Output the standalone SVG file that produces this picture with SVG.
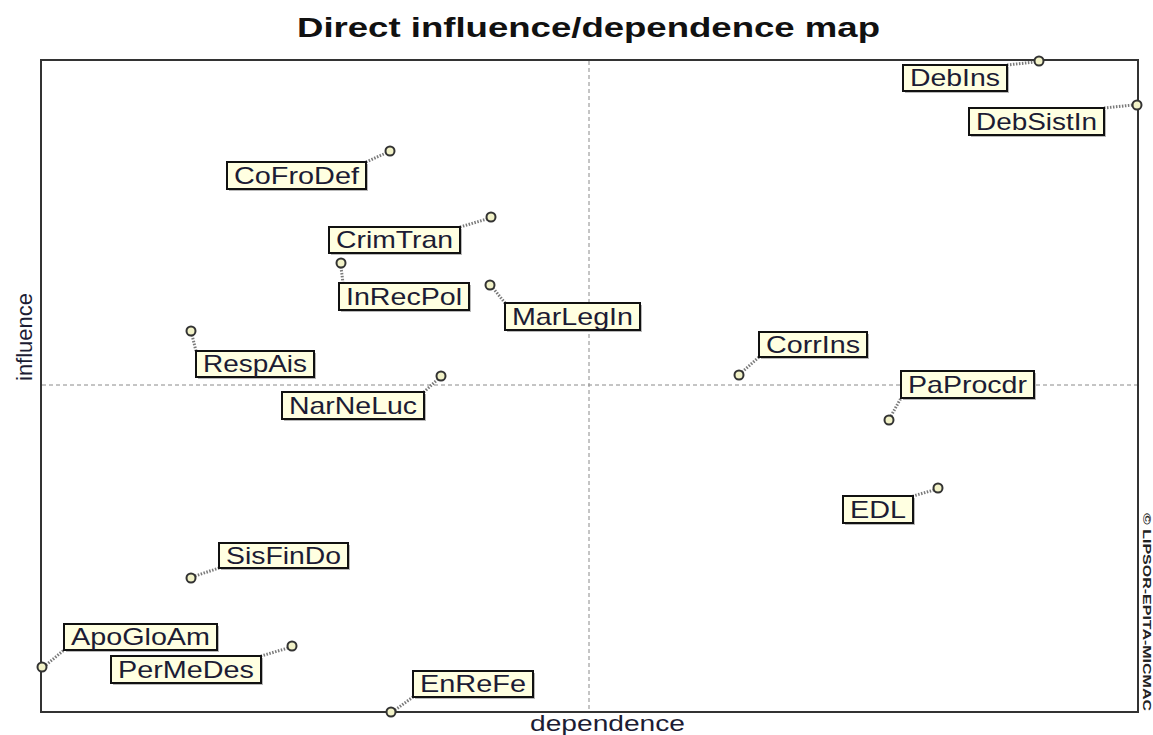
<svg xmlns="http://www.w3.org/2000/svg" width="1153" height="735" viewBox="0 0 1153 735">
<style>
.lbl{fill:#FFFFE1;stroke:#111;stroke-width:2}
.shd{fill:#8a8a8a;opacity:0.6}
.pt{fill:#F2F2C8;stroke:#333;stroke-width:2}
.tx{font-family:"Liberation Sans",Arial,sans-serif;font-size:24px;fill:#1c1c34}
.ax{font-family:"Liberation Sans",Arial,sans-serif;font-size:22px;fill:#1c1c34}
.ld{stroke:#7a7a7a;stroke-width:3;stroke-dasharray:1.5 1.5;fill:none}
.frame{stroke:#333;stroke-width:2;fill:none}
.dash{stroke:#8a8a8a;stroke-width:1;stroke-dasharray:4 3}
</style>
<rect width="1153" height="735" fill="#fff"/>
<text x="297" y="37" font-family="'Liberation Sans',Arial,sans-serif" font-size="28" font-weight="bold" fill="#111" textLength="583" lengthAdjust="spacingAndGlyphs">Direct influence/dependence map</text>
<g id="plot">
<rect class="frame" x="41" y="60" width="1097" height="652"/>
<line class="dash" x1="589" y1="61" x2="589" y2="711"/>
<line class="dash" x1="42" y1="385" x2="1137" y2="385"/>
<text class="ax" x="530" y="731" textLength="155" lengthAdjust="spacingAndGlyphs">dependence</text>
<text class="ax" transform="translate(32,381) rotate(-90)" x="0" y="0" textLength="88" lengthAdjust="spacingAndGlyphs">influence</text>
<text transform="translate(1143,513) rotate(90)" x="0" y="0" font-family="'Liberation Sans',Arial,sans-serif" font-size="11" font-weight="bold" fill="#222" textLength="198" lengthAdjust="spacingAndGlyphs">© LIPSOR-EPITA-MICMAC</text>
</g>
<g id="connectors">
<line class="ld" x1="1007" y1="65" x2="1035" y2="62"/>
<line class="ld" x1="1104" y1="108" x2="1133" y2="105"/>
<line class="ld" x1="366" y1="162" x2="386" y2="153"/>
<line class="ld" x1="460" y1="227" x2="487" y2="219"/>
<line class="ld" x1="341" y1="267" x2="343" y2="283"/>
<line class="ld" x1="493" y1="288" x2="505" y2="303"/>
<line class="ld" x1="192" y1="335" x2="196" y2="351"/>
<line class="ld" x1="438" y1="379" x2="424" y2="392"/>
<line class="ld" x1="742" y1="372" x2="759" y2="357"/>
<line class="ld" x1="891" y1="416" x2="901" y2="398"/>
<line class="ld" x1="934" y1="490" x2="913" y2="496"/>
<line class="ld" x1="195" y1="576" x2="219" y2="568"/>
<line class="ld" x1="46" y1="665" x2="64" y2="650"/>
<line class="ld" x1="288" y1="648" x2="261" y2="656"/>
<line class="ld" x1="395" y1="710" x2="413" y2="697"/>
</g>
<g id="DebIns"><circle class="pt" cx="1039" cy="61" r="4.5"/><rect class="shd" x="905" y="67" width="104" height="26"/><rect class="lbl" x="903" y="65" width="104" height="26"/><text class="tx" x="910" y="86" textLength="90" lengthAdjust="spacingAndGlyphs">DebIns</text></g>
<g id="DebSistIn"><circle class="pt" cx="1137" cy="105" r="4.5"/><rect class="shd" x="971" y="110" width="135" height="27"/><rect class="lbl" x="969" y="108" width="135" height="27"/><text class="tx" x="976" y="130" textLength="121" lengthAdjust="spacingAndGlyphs">DebSistIn</text></g>
<g id="CoFroDef"><circle class="pt" cx="390" cy="151" r="4.5"/><rect class="shd" x="229" y="164" width="139" height="27"/><rect class="lbl" x="227" y="162" width="139" height="27"/><text class="tx" x="234" y="184" textLength="125" lengthAdjust="spacingAndGlyphs">CoFroDef</text></g>
<g id="CrimTran"><circle class="pt" cx="491" cy="217" r="4.5"/><rect class="shd" x="331" y="229" width="131" height="26"/><rect class="lbl" x="329" y="227" width="131" height="26"/><text class="tx" x="336" y="248" textLength="117" lengthAdjust="spacingAndGlyphs">CrimTran</text></g>
<g id="InRecPol"><circle class="pt" cx="341" cy="263" r="4.5"/><rect class="shd" x="341" y="285" width="130" height="27"/><rect class="lbl" x="339" y="283" width="130" height="27"/><text class="tx" x="346" y="305" textLength="116" lengthAdjust="spacingAndGlyphs">InRecPol</text></g>
<g id="MarLegIn"><circle class="pt" cx="490" cy="285" r="4.5"/><rect class="shd" x="507" y="305" width="135" height="27"/><rect class="lbl" x="505" y="303" width="135" height="27"/><text class="tx" x="512" y="325" textLength="121" lengthAdjust="spacingAndGlyphs">MarLegIn</text></g>
<g id="RespAis"><circle class="pt" cx="191" cy="331" r="4.5"/><rect class="shd" x="198" y="353" width="118" height="26"/><rect class="lbl" x="196" y="351" width="118" height="26"/><text class="tx" x="203" y="372" textLength="104" lengthAdjust="spacingAndGlyphs">RespAis</text></g>
<g id="NarNeLuc"><circle class="pt" cx="441" cy="376" r="4.5"/><rect class="shd" x="284" y="394" width="142" height="27"/><rect class="lbl" x="282" y="392" width="142" height="27"/><text class="tx" x="289" y="414" textLength="128" lengthAdjust="spacingAndGlyphs">NarNeLuc</text></g>
<g id="CorrIns"><circle class="pt" cx="739" cy="375" r="4.5"/><rect class="shd" x="761" y="334" width="108" height="25"/><rect class="lbl" x="759" y="332" width="108" height="25"/><text class="tx" x="766" y="353" textLength="94" lengthAdjust="spacingAndGlyphs">CorrIns</text></g>
<g id="PaProcdr"><circle class="pt" cx="889" cy="420" r="4.5"/><rect class="shd" x="903" y="373" width="133" height="27"/><rect class="lbl" x="901" y="371" width="133" height="27"/><text class="tx" x="908" y="393" textLength="119" lengthAdjust="spacingAndGlyphs">PaProcdr</text></g>
<g id="EDL"><circle class="pt" cx="938" cy="488" r="4.5"/><rect class="shd" x="845" y="498" width="70" height="27"/><rect class="lbl" x="843" y="496" width="70" height="27"/><text class="tx" x="850" y="518" textLength="56" lengthAdjust="spacingAndGlyphs">EDL</text></g>
<g id="SisFinDo"><circle class="pt" cx="191" cy="578" r="4.5"/><rect class="shd" x="221" y="545" width="129" height="25"/><rect class="lbl" x="219" y="543" width="129" height="25"/><text class="tx" x="226" y="564" textLength="115" lengthAdjust="spacingAndGlyphs">SisFinDo</text></g>
<g id="ApoGloAm"><circle class="pt" cx="42" cy="667" r="4.5"/><rect class="shd" x="66" y="626" width="153" height="26"/><rect class="lbl" x="64" y="624" width="153" height="26"/><text class="tx" x="71" y="645" textLength="139" lengthAdjust="spacingAndGlyphs">ApoGloAm</text></g>
<g id="PerMeDes"><circle class="pt" cx="292" cy="646" r="4.5"/><rect class="shd" x="113" y="658" width="150" height="27"/><rect class="lbl" x="111" y="656" width="150" height="27"/><text class="tx" x="118" y="678" textLength="136" lengthAdjust="spacingAndGlyphs">PerMeDes</text></g>
<g id="EnReFe"><circle class="pt" cx="391" cy="712" r="4.5"/><rect class="shd" x="415" y="673" width="120" height="26"/><rect class="lbl" x="413" y="671" width="120" height="26"/><text class="tx" x="420" y="692" textLength="106" lengthAdjust="spacingAndGlyphs">EnReFe</text></g>
</svg>
